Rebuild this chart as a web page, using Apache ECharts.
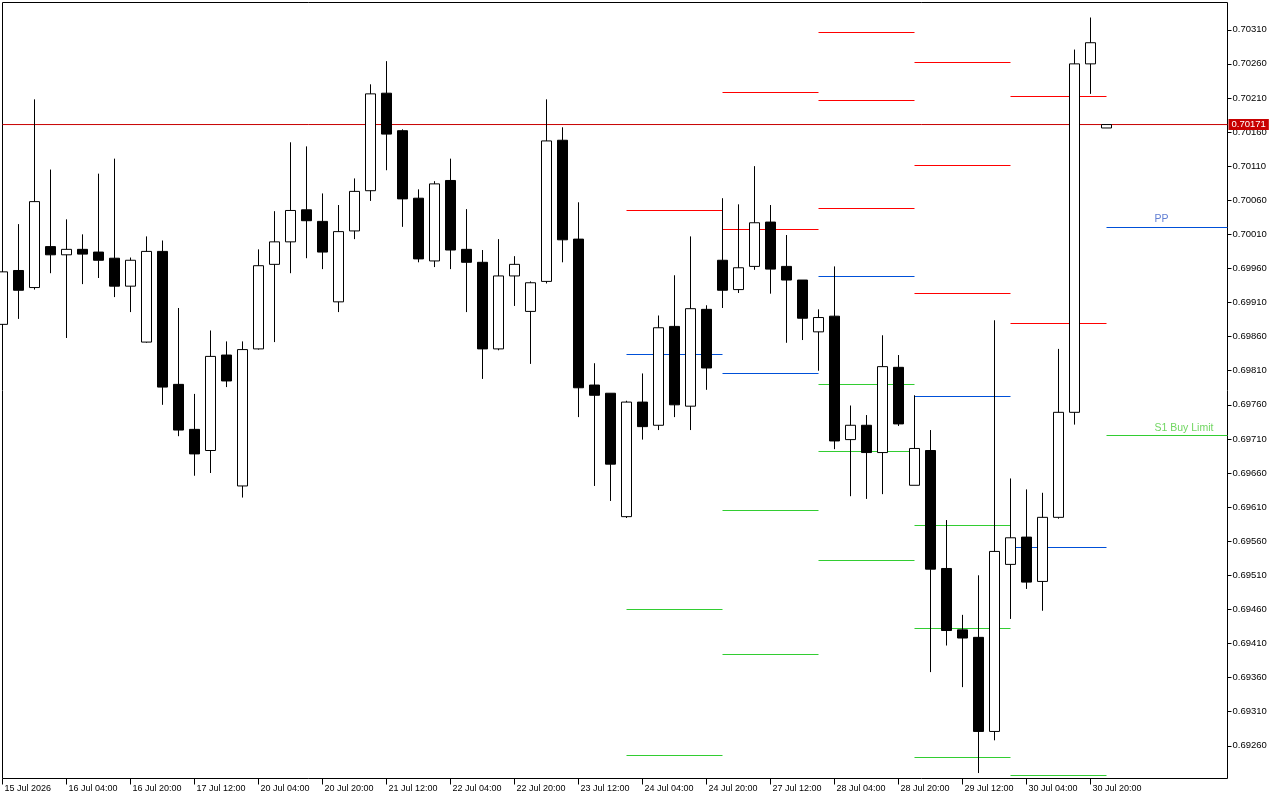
<!DOCTYPE html>
<html>
<head>
<meta charset="utf-8">
<script src="https://cdn.jsdelivr.net/npm/echarts@6/dist/echarts.min.js"></script>
<style>
html,body{margin:0;padding:0;background:#fff;}
#c{width:1280px;height:800px;}
</style>
</head>
<body>
<div id="c"></div>
<script>
// ---- tick labels ----
const xTickIndex = [0,4,8,12,16,20,24,28,32,36,40,44,48,52,56,60,64,68];
const xTickLabels = ['15 Jul 2026','16 Jul 04:00','16 Jul 20:00','17 Jul 12:00','20 Jul 04:00','20 Jul 20:00',
  '21 Jul 12:00','22 Jul 04:00','22 Jul 20:00','23 Jul 12:00','24 Jul 04:00','24 Jul 20:00',
  '27 Jul 12:00','28 Jul 04:00','28 Jul 20:00','29 Jul 12:00','30 Jul 04:00','30 Jul 20:00'];
const yTicks = [0.69260,0.69310,0.69360,0.69410,0.69460,0.69510,0.69560,0.69610,0.69660,0.69710,0.69760,
  0.69810,0.69860,0.69910,0.69960,0.70010,0.70060,0.70110,0.70160,0.70210,0.70260,0.70310];

// ---- H4 candles (index 0 = 15 Jul 12:00) ----
const open = [0.69878,0.69957,0.69932,0.69992,0.69980,0.69988,0.69984,0.69975,0.69934,0.69852,
  0.69985,0.69790,0.69724,0.69693,0.69833,0.69641,0.69842,0.69966,0.69999,0.70046,
  0.70029,0.69911,0.70015,0.70074,0.70217,0.70162,0.70063,0.69971,0.70089,0.69988,
  0.69969,0.69842,0.69949,0.69897,0.69941,0.70148,0.70003,0.69789,0.69777,0.69596,
  0.69764,0.69730,0.69875,0.69758,0.69900,0.69972,0.69929,0.69963,0.70028,0.69963,
  0.69943,0.69867,0.69890,0.69709,0.69730,0.69690,0.69815,0.69642,0.69693,0.69520,
  0.69430,0.69419,0.69281,0.69526,0.69566,0.69501,0.69595,0.69749,0.70260,0.70166];
const high = [0.69957,0.70025,0.70208,0.70105,0.70032,0.70010,0.70099,0.70121,0.69976,0.70007,
  0.70001,0.69902,0.69776,0.69869,0.69853,0.69853,0.69988,0.70044,0.70145,0.70139,
  0.70070,0.70053,0.70092,0.70230,0.70264,0.70164,0.70076,0.70088,0.70121,0.70047,
  0.69987,0.70003,0.69978,0.69941,0.70208,0.70167,0.70057,0.69821,0.69777,0.69766,
  0.69806,0.69891,0.69950,0.70007,0.69906,0.70063,0.70054,0.70110,0.70053,0.70009,
  0.69943,0.69900,0.69963,0.69759,0.69745,0.69862,0.69833,0.69774,0.69723,0.69591,
  0.69452,0.69510,0.69884,0.69652,0.69636,0.69631,0.69842,0.70281,0.70328,0.70171];
const low = [0.69876,0.69886,0.69929,0.69953,0.69858,0.69937,0.69946,0.69918,0.69896,0.69851,
  0.69760,0.69714,0.69656,0.69660,0.69786,0.69624,0.69841,0.69852,0.69953,0.69975,
  0.69959,0.69896,0.70003,0.70059,0.70104,0.70021,0.69969,0.69962,0.69959,0.69896,
  0.69798,0.69840,0.69905,0.69820,0.69938,0.69969,0.69742,0.69641,0.69619,0.69594,
  0.69709,0.69723,0.69742,0.69723,0.69782,0.69902,0.69924,0.69958,0.69923,0.69851,
  0.69855,0.69810,0.69695,0.69626,0.69622,0.69629,0.69729,0.69642,0.69368,0.69407,
  0.69346,0.69220,0.69268,0.69446,0.69490,0.69458,0.69593,0.69731,0.70216,0.70166];
const close = [0.69955,0.69928,0.70058,0.69980,0.69988,0.69981,0.69972,0.69934,0.69972,0.69985,
  0.69786,0.69723,0.69688,0.69831,0.69795,0.69841,0.69964,0.69999,0.70045,0.70030,
  0.69984,0.70014,0.70073,0.70216,0.70157,0.70062,0.69974,0.70084,0.69987,0.69969,
  0.69842,0.69949,0.69966,0.69939,0.70147,0.70002,0.69785,0.69774,0.69673,0.69764,
  0.69728,0.69873,0.69760,0.69901,0.69814,0.69928,0.69961,0.70027,0.69959,0.69943,
  0.69887,0.69888,0.69707,0.69730,0.69690,0.69816,0.69732,0.69696,0.69519,0.69429,
  0.69418,0.69281,0.69545,0.69565,0.69500,0.69595,0.69749,0.70260,0.70291,0.70171];

// ---- daily classic pivots (24,27,28,29,30,31 Jul) ----
const pivotStart = [39,45,51,57,63,69];
const pivotR3 = [null,null,0.70306,0.70263,null,null];
const pivotR2 = [null,0.70218,0.70207,0.70112,0.70213,null];
const pivotR1 = [0.70046,0.70017,0.70048,0.69923,0.69879,null];
const pivotPP = [0.69834,0.69806,0.69949,0.69772,0.69551,0.70021];
const pivotS1 = [0.69460,0.69605,0.69790,0.69583,0.69217,0.69715];
const pivotS2 = [0.69246,0.69394,0.69692,0.69433,null,null];
const pivotS3 = [null,null,0.69532,0.69243,null,null];
const levelTextIndex = 72;
const levelTexts = ['PP','S1 Buy Limit'];
const levelTextValues = [0.70021,0.69715];
const currentPrice = 0.70171;

// ---- layout ----
const GRID = {left:2.5, top:2.5, right:52.5, bottom:21.5};
const plotW = 1280 - GRID.left - GRID.right;
const slotPx = 16;
const xMax = plotW / slotPx;
const FONT = 'Liberation Sans, Arial, sans-serif';
const C_RES = '#ff0000', C_PP = '#0050d8', C_SUP = '#32cd32';

const candleData = open.map((o,i)=>[i, o, close[i], low[i], high[i]]);

const segs = [];
function addLevel(arr, color){
  arr.forEach((v,d)=>{
    if(v==null) return;
    const x0 = pivotStart[d];
    const x1 = d+1 < pivotStart.length ? pivotStart[d+1] : xMax;
    segs.push({coords:[[x0,v],[x1,v]], lineStyle:{color:color}});
  });
}
addLevel(pivotR3,C_RES); addLevel(pivotR2,C_RES); addLevel(pivotR1,C_RES);
addLevel(pivotPP,C_PP);
addLevel(pivotS1,C_SUP); addLevel(pivotS2,C_SUP); addLevel(pivotS3,C_SUP);

const textColors = ['#3a5fc8','#4ccc3a'];

const chart = echarts.init(document.getElementById('c'), null, {renderer:'canvas'});
chart.setOption({
  animation:false,
  backgroundColor:'#ffffff',
  grid:{left:GRID.left, top:GRID.top, right:GRID.right, bottom:GRID.bottom, show:true,
        borderColor:'#000', borderWidth:1, backgroundColor:'#fff'},
  xAxis:{
    type:'value', min:0, max:xMax,
    axisLine:{show:false, onZero:false}, splitLine:{show:false},
    axisTick:{show:true, inside:false, customValues:xTickIndex, length:6, lineStyle:{color:'#000'}},
    axisLabel:{show:true, customValues:xTickIndex, align:'left', margin:6, padding:[0,0,0,2],
      fontFamily:FONT, fontSize:9, color:'#000',
      formatter:(v)=>{const k=xTickIndex.indexOf(Math.round(v)); return k>=0?xTickLabels[k]:'';}}
  },
  yAxis:{
    type:'value', position:'right', min:0.69212, max:0.70350, scale:true,
    axisLine:{show:false, onZero:false}, splitLine:{show:false},
    axisTick:{show:true, inside:false, customValues:yTicks, length:4, lineStyle:{color:'#000'}},
    axisLabel:{show:true, customValues:yTicks, margin:5, fontFamily:FONT, fontSize:9.5, color:'#000',
      formatter:(v)=>v.toFixed(5)}
  },
  series:[
    {type:'lines', coordinateSystem:'cartesian2d', polyline:false, z:1, silent:true,
     lineStyle:{width:1, opacity:1}, data:segs},
    {type:'line', z:1, silent:true, showSymbol:false, symbol:'none',
     data:[[0,currentPrice],[xMax,currentPrice]],
     lineStyle:{color:'#c80000', width:1},
     endLabel:{show:true, formatter:()=>currentPrice.toFixed(5), color:'#fff', backgroundColor:'#c80000',
       padding:[1,3,0,3], distance:1, fontFamily:FONT, fontSize:9.5}},
    {type:'candlestick', z:3, silent:true, barWidth:10,
     dimensions:['idx','open','close','lowest','highest'],
     encode:{x:'idx', y:['open','close','lowest','highest']},
     itemStyle:{color:'#ffffff', color0:'#000000', borderColor:'#000000', borderColor0:'#000000', borderWidth:1},
     data:candleData},
    {type:'scatter', z:4, silent:true, symbolSize:0,
     data:levelTexts.map((t,i)=>({value:[levelTextIndex, levelTextValues[i]],
        label:{show:true, formatter:t, color:textColors[i], position:[0,-13], align:'left',
               fontFamily:FONT, fontSize:10.5}}))}
  ]
});
</script>
</body>
</html>
